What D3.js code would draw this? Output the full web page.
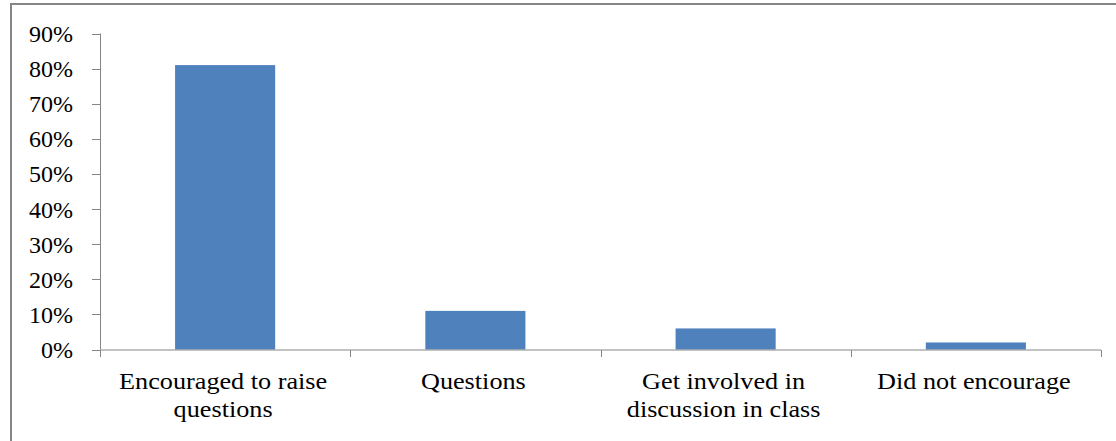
<!DOCTYPE html>
<meta charset="utf-8">
<style>
body { margin: 0; background: #fff; }
</style>
<svg width="1116" height="441"></svg>
<script src="https://d3js.org/d3.v7.min.js"></script>
<script>

var categories = [["Encouraged to raise", "questions"], ["Questions"], ["Get involved in", "discussion in class"], ["Did not encourage"]];
var values = [0.81, 0.11, 0.06, 0.02];
var yTicks = [0, 0.1, 0.2, 0.3, 0.4, 0.5, 0.6, 0.7, 0.8, 0.9];

var font = "'Liberation Serif'";
var grey = "#868686";

var svg = d3.select("svg");

// chart frame, runs off the right and bottom edges
svg.append("rect")
    .attr("x", 11).attr("y", 4)
    .attr("width", 1200).attr("height", 500)
    .attr("fill", "none")
    .attr("stroke", grey)
    .attr("stroke-width", 2);

var x = d3.scaleBand()
    .domain(d3.range(categories.length))
    .range([100, 1101])
    .paddingInner(0.6)
    .paddingOuter(0.3);

var y = d3.scaleLinear()
    .domain([0, 0.9])
    .range([349.5, 33.5]);

// y axis
var yAxis = svg.append("g");
yAxis.append("line")
    .attr("x1", 100.5).attr("x2", 100.5)
    .attr("y1", y(0.9)).attr("y2", y(0))
    .attr("stroke", grey);
yAxis.selectAll("line.tick")
  .data(yTicks)
  .enter().append("line")
    .attr("class", "tick")
    .attr("x1", 92).attr("x2", 100.5)
    .attr("y1", function(d) { return Math.round(y(d)) + 0.5; })
    .attr("y2", function(d) { return Math.round(y(d)) + 0.5; })
    .attr("stroke", grey);
yAxis.selectAll("text")
  .data(yTicks)
  .enter().append("text")
    .attr("x", 73)
    .attr("y", function(d) { return y(d) + 8.5; })
    .attr("text-anchor", "end")
    .style("font-family", font)
    .style("font-size", "24px")
    .text(function(d) { return Math.round(d * 100) + "%"; });

// bars
svg.append("g")
  .selectAll("rect")
  .data(values)
  .enter().append("rect")
    .attr("x", function(d, i) { return x(i); })
    .attr("y", function(d) { return y(d); })
    .attr("width", x.bandwidth())
    .attr("height", function(d) { return y(0) - y(d); })
    .attr("fill", "#4F81BD");

// x axis
var step = (1101 - 100) / categories.length;
var xAxis = svg.append("g");
xAxis.append("line")
    .attr("x1", 100).attr("x2", 1101)
    .attr("y1", 350).attr("y2", 350)
    .attr("stroke", grey);
xAxis.selectAll("line.tick")
  .data(d3.range(categories.length + 1))
  .enter().append("line")
    .attr("class", "tick")
    .attr("x1", function(i) { return Math.round(100 + i * step) + 0.5; })
    .attr("x2", function(i) { return Math.round(100 + i * step) + 0.5; })
    .attr("y1", 350).attr("y2", 357)
    .attr("stroke", grey);

// category labels, one text per line (the source is a little stretched sideways)
categories.forEach(function(lines, i) {
  xAxis.selectAll(null)
    .data(lines)
    .enter().append("text")
      .attr("transform", function(d, j) {
        return "translate(" + (x(i) + x.bandwidth() / 2 - 2) + "," + (388.5 + j * 28) + ") scale(1.14,1)";
      })
      .attr("text-anchor", "middle")
      .style("font-family", font)
      .style("font-size", "23px")
      .text(function(d) { return d; });
});

</script>
